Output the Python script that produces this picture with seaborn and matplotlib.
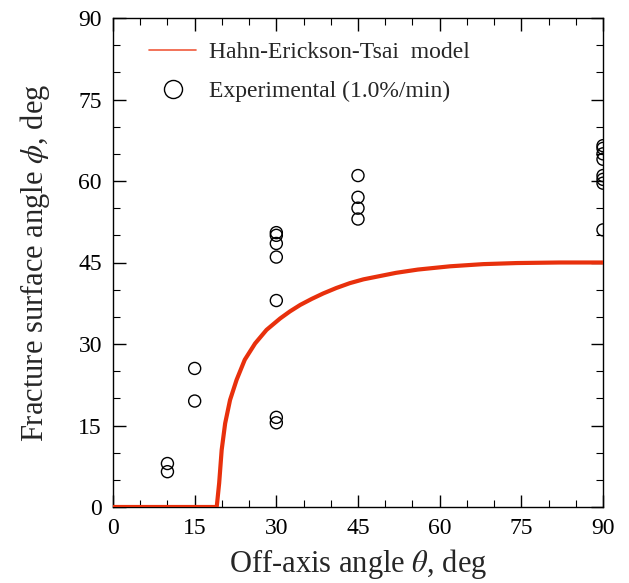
import matplotlib
matplotlib.use("Agg")
import matplotlib.pyplot as plt
from matplotlib.lines import Line2D
from matplotlib.ticker import MultipleLocator
import seaborn as sns
import pandas as pd

# Model curve
model_theta = [0, 19.05, 19.5, 19.96, 20.6, 21.5, 22.7, 24.2, 26.1, 28.2,
               30.7, 32.5, 34.4, 36.5, 38.6, 41.0, 43.5, 46.0, 49.0, 52.0, 56.0,
               61.9, 68.0, 74.2, 82.0, 90.0]
model_phi = [0, 0, 4.4, 10.5, 15.4, 19.7, 23.4, 27.1, 30.1, 32.6,
             34.7, 36.0, 37.2, 38.3, 39.3, 40.3, 41.2, 41.9, 42.5, 43.1, 43.7,
             44.3, 44.7, 44.9, 45.0, 45.0]

# Experimental data
exp_theta = [10, 10, 15, 15, 30, 30, 30, 30, 30, 30, 30, 45, 45, 45, 45,
             90, 90, 90, 90, 90, 90, 90, 90]
exp_phi = [8.0, 6.5, 25.5, 19.5, 50.5, 50.0, 48.5, 46.0, 38.0, 16.5, 15.5,
           61.0, 57.0, 55.0, 53.0,
           66.5, 66.0, 65.0, 64.0, 61.0, 60.3, 59.6, 51.0]

legend_labels = ["Hahn-Erickson-Tsai  model", "Experimental (1.0%/min)"]

sns.set_theme(style="ticks")
plt.rcParams['font.family'] = ['Liberation Serif', 'DejaVu Serif']
plt.rcParams['mathtext.fontset'] = 'stix'

fig = plt.figure(figsize=(6.29, 5.83), dpi=100)
ax = fig.add_axes([113/629, 76/583, 490/629, 489/583])

red = "#e8300c"
df_model = pd.DataFrame({"theta": model_theta, "phi": model_phi})
df_exp = pd.DataFrame({"theta": exp_theta, "phi": exp_phi})

sns.lineplot(data=df_model, x="theta", y="phi", ax=ax, color=red, linewidth=3.0,
             sort=False, estimator=None, zorder=3)
sns.scatterplot(data=df_exp, x="theta", y="phi", ax=ax, marker="o", s=75,
                facecolor="none", edgecolor="black", linewidth=1.0, zorder=4)

ax.set_xlim(0, 90)
ax.set_ylim(0, 90)
ax.xaxis.set_major_locator(MultipleLocator(15))
ax.yaxis.set_major_locator(MultipleLocator(15))
ax.xaxis.set_minor_locator(MultipleLocator(5))
ax.yaxis.set_minor_locator(MultipleLocator(5))
ax.tick_params(which="both", direction="in", top=True, right=True, colors="black")
ax.tick_params(which="major", length=9, width=1.0, labelsize=17, pad=8)
ax.tick_params(which="minor", length=5, width=0.8)
for sp in ax.spines.values():
    sp.set_color("black")
    sp.set_linewidth(1.0)
    sp.set_visible(True)

ax.set_xlabel(r"Off-axis angle $\theta$, deg", fontsize=22, labelpad=6)
ax.set_ylabel(r"Fracture surface angle $\phi$, deg", fontsize=22, labelpad=19)

handles = [Line2D([], [], color="#f05a3c", linewidth=1.2),
           Line2D([], [], linestyle="none", marker="o", markersize=13,
                  markerfacecolor="none", markeredgecolor="black", markeredgewidth=1.0)]
ax.legend(handles, legend_labels, loc="upper left", frameon=False, fontsize=17,
          bbox_to_anchor=(0.03, 0.995), handlelength=2.0, handletextpad=0.55,
          labelspacing=0.75)

fig.savefig("out.png", dpi=100)
